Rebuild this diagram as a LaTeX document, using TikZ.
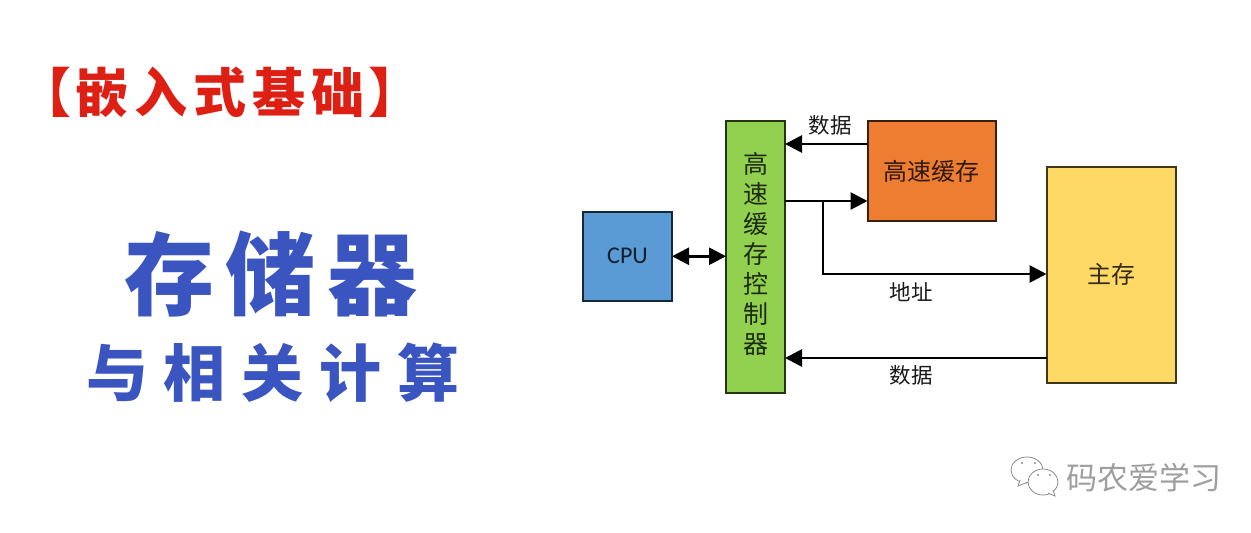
\documentclass[tikz,border=0pt]{standalone}
\usepackage{fontspec}
\setmainfont{Noto Sans CJK SC}[BoldFont={Noto Sans CJK SC Bold}]
\newfontfamily\heavyf{Noto Sans CJK SC Black}
\newfontfamily\latinf{Carlito}
\usetikzlibrary{arrows.meta}
\definecolor{myblue}{HTML}{3A55C0}
\definecolor{titlered}{HTML}{DD1F14}
\definecolor{cpublue}{HTML}{5B9BD5}
\definecolor{ctrlgreen}{HTML}{92D050}
\definecolor{cacheorange}{HTML}{ED7D31}
\definecolor{mainyellow}{HTML}{FFD966}
\tikzset{
  x=1pt,y=-1pt,
  blockbox/.style={draw=#1!25!black,fill=#1,line width=2pt,outer sep=0pt,inner sep=0pt,anchor=north west,text=#1!20!black},
  conn/.style={line width=2.8pt,color=black},
  tip/.style={-{Triangle[length=17pt,width=17pt]}},
  dbl/.style={{Triangle[length=17pt,width=17pt]}-{Triangle[length=17pt,width=17pt]}},
  lab/.style={font=\fontsize{21.5}{24}\selectfont,text=black!90,inner sep=0pt},
  redtitle/.style={font=\heavyf\fontsize{53}{56}\selectfont,text=titlered,inner sep=0pt},
  bluetitle/.style={font=\heavyf\fontsize{90}{92}\selectfont,text=myblue,inner sep=0pt},
  bluesub/.style={font=\heavyf\fontsize{62}{66}\selectfont,text=myblue,inner sep=0pt},
  bubble/.style={draw=black!45,line width=0.8pt,fill=white}
}
\begin{document}
\begin{tikzpicture}
\useasboundingbox (0,0) rectangle (1251,533);
\fill[white] (0,0) rectangle (1251,533);
% titles
\node[redtitle] (t1) at (220,92) {【\kern4pt 嵌\kern6pt 入\kern6pt 式\kern6pt 基\kern6pt 础\kern4pt 】};
\node[bluetitle] (t2) at (271,274) {存\kern12pt 储\kern12pt 器};
\node[bluesub] (t3) at (273,373) {与\kern16pt 相\kern16pt 关\kern16pt 计\kern16pt 算};
% boxes
\node[blockbox=cpublue,minimum width=89pt,minimum height=89.5pt,font=\latinf\fontsize{24}{26}\selectfont] (cpu) at (583,211.5) {CPU};
\node[blockbox=ctrlgreen,minimum width=59pt,minimum height=272pt,font=\fontsize{25}{30}\selectfont,align=center] (ctrl) at (726,121) {高\\速\\缓\\存\\控\\制\\器\rule[-8pt]{0pt}{8pt}};
\node[blockbox=cacheorange,minimum width=128.5pt,minimum height=100pt,font=\fontsize{24}{26}\selectfont] (cache) at (867.5,121) {高速缓存};
\node[blockbox=mainyellow,minimum width=129.5pt,minimum height=216.5pt,font=\fontsize{24}{26}\selectfont] (main) at (1046.5,166.5) {主存};
% connectors
\coordinate (j) at (823,201);
\coordinate (a) at (823,274);
\coordinate (c1) at (867,144);
\coordinate (m1) at (1046,358);
\draw[conn,dbl] (cpu.east) -- (ctrl.west |- cpu.east);
\draw[conn,tip] (cache.west |- c1) -- (ctrl.east |- c1);
\draw[conn,tip] (ctrl.east |- j) -- (cache.west |- j);
\draw[conn,tip] (j) -- (a) -- (main.west |- a);
\draw[conn,tip] (main.west |- m1) -- (ctrl.east |- m1);
% labels
\node[lab] (l1) at (830,125) {数据};
\node[lab] (l2) at (911,292) {地址};
\node[lab] (l3) at (911,375) {数据};
% watermark
\draw[bubble] (1027,470) ellipse[x radius=16pt,y radius=13pt];
\draw[bubble] (1020,480) -- (1018,486) -- (1028,482);
\fill[black!45] (1022,463) circle[radius=1.2pt] (1035,463) circle[radius=1.2pt];
\draw[bubble] (1043,482) ellipse[x radius=15pt,y radius=13pt];
\draw[bubble] (1048,493) -- (1055,496) -- (1053,490);
\fill[black!45] (1038,475) circle[radius=1.2pt] (1050,475) circle[radius=1.2pt];
\node[font=\fontsize{31}{33}\selectfont,text=black!38,inner sep=0pt] (wm) at (1144,478) {码农爱学习};
\end{tikzpicture}
\end{document}
